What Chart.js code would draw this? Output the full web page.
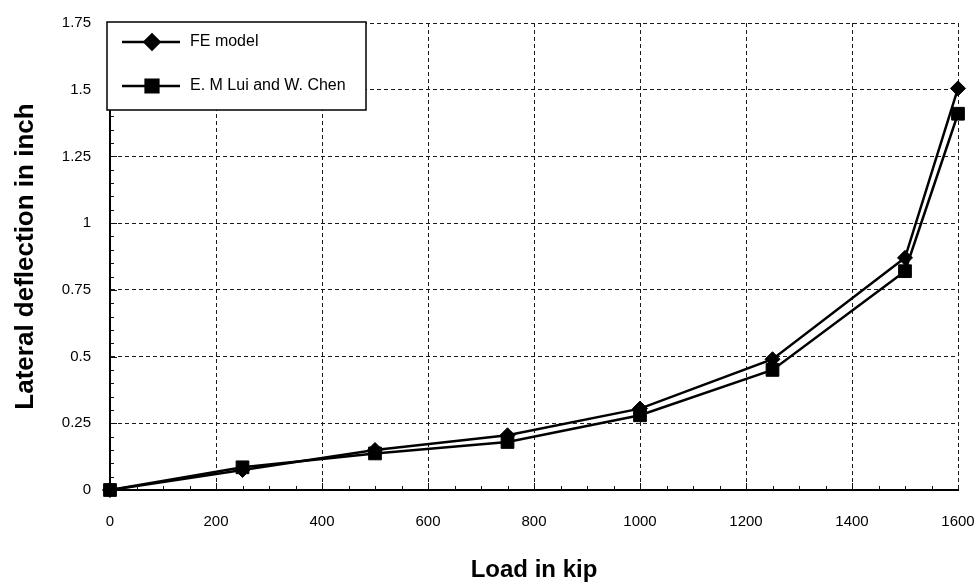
<!DOCTYPE html>
<html>
<head>
<meta charset="utf-8">
<script src="https://cdn.jsdelivr.net/npm/chart.js@4/dist/chart.umd.min.js"></script>
<style>
  html, body { margin: 0; padding: 0; background: #fff; }
  #wrap { width: 979px; height: 587px; }
</style>
</head>
<body>
<div id="wrap"><canvas id="deflChart"></canvas></div>
<script>
// --- data -------------------------------------------------------------------
const loads = [0, 250, 500, 750, 1000, 1250, 1500, 1600];          // kip
const feModel = [0, 0.075, 0.15, 0.205, 0.305, 0.49, 0.87, 1.505];  // inch
const luiChen = [0, 0.085, 0.137, 0.18, 0.28, 0.45, 0.82, 1.41];    // inch
const seriesNames = ['FE model', 'E. M Lui and W. Chen'];
const xTicks = { min: 0, max: 1600, step: 200 };
const yTicks = { min: 0, max: 1.75, step: 0.25 };

const FONT = "'Liberation Sans', Arial, sans-serif";

const toPoints = (ys) => loads.map((x, i) => ({ x, y: ys[i] }));

// --- small inward tick marks on the left and bottom axes --------------------
const minorTicks = {
  id: 'minorTicks',
  afterDatasetsDraw(chart) {
    const { ctx, chartArea: a, scales: { x, y } } = chart;
    ctx.save();
    ctx.strokeStyle = '#111';
    ctx.lineWidth = 1;
    ctx.beginPath();
    for (let v = xTicks.min + 50; v < xTicks.max; v += 50) {
      const px = Math.round(x.getPixelForValue(v)) + 0.5;
      const len = v % 200 === 0 ? 7 : 4;
      ctx.moveTo(px, a.bottom);
      ctx.lineTo(px, a.bottom - len);
    }
    for (let k = 1; k < 35; k++) {
      const v = k * 0.05;
      const py = Math.round(y.getPixelForValue(v)) + 0.5;
      const len = k % 5 === 0 ? 7 : 4;
      ctx.moveTo(a.left, py);
      ctx.lineTo(a.left + len, py);
    }
    ctx.stroke();
    ctx.restore();
  },
};

// --- legend box inside the plot, line + marker samples ----------------------
const boxLegend = {
  id: 'boxLegend',
  afterDraw(chart) {
    const { ctx, chartArea: a } = chart;
    const left = a.left - 3, top = a.top - 1, w = 259, h = 88;
    ctx.save();
    ctx.fillStyle = '#fff';
    ctx.fillRect(left, top, w, h);
    ctx.strokeStyle = '#000';
    ctx.lineWidth = 1.5;
    ctx.strokeRect(left, top, w, h);

    chart.data.datasets.forEach((ds, i) => {
      const cy = top + 20 + i * 44;
      ctx.strokeStyle = '#000';
      ctx.lineWidth = 2.5;
      ctx.beginPath();
      ctx.moveTo(left + 15, cy);
      ctx.lineTo(left + 73, cy);
      ctx.stroke();
      ctx.fillStyle = '#000';
      Chart.helpers.drawPoint(ctx, {
        pointStyle: ds.pointStyle,
        radius: ds.pointRadius,
        rotation: 0,
        borderWidth: 1,
      }, left + 45, cy);
      ctx.fillStyle = '#000';
      ctx.font = '16px ' + FONT;
      ctx.textBaseline = 'middle';
      ctx.textAlign = 'left';
      ctx.fillText(ds.label, left + 83, cy);
    });
    ctx.restore();
  },
};

const ctx = document.getElementById('deflChart').getContext('2d');
const chart = new Chart(ctx, {
  type: 'line',
  data: {
    datasets: [
      {
        label: seriesNames[0],
        data: toPoints(feModel),
        borderColor: '#000',
        backgroundColor: '#000',
        borderWidth: 2.5,
        pointStyle: 'rectRot',
        pointRadius: 7.5,
        pointHoverRadius: 7.5,
        pointBorderWidth: 1,
        tension: 0,
        clip: false,
      },
      {
        label: seriesNames[1],
        data: toPoints(luiChen),
        borderColor: '#000',
        backgroundColor: '#000',
        borderWidth: 2.5,
        pointStyle: 'rect',
        pointRadius: 9,
        pointHoverRadius: 9,
        pointBorderWidth: 1,
        tension: 0,
        clip: false,
      },
    ],
  },
  options: {
    responsive: true,
    maintainAspectRatio: false,
    animation: false,
    events: [],
    layout: { padding: { top: 23, right: 21, left: 0, bottom: 0 } },
    plugins: {
      legend: { display: false },
      tooltip: { enabled: false },
    },
    scales: {
      x: {
        type: 'linear',
        min: xTicks.min,
        max: xTicks.max,
        afterFit: (s) => {
          s.height = 97;
          s.paddingLeft = 0;
          s.paddingRight = 0;
        },
        ticks: {
          stepSize: xTicks.step,
          padding: 23,
          color: '#000',
          font: { family: FONT, size: 15 },
          maxRotation: 0,
          callback: (v) => String(v),
        },
        grid: { color: '#1a1a1a', lineWidth: 1, drawTicks: false },
        border: { color: '#000', width: 2, dash: [4, 3] },
        title: {
          display: true,
          text: 'Load in kip',
          color: '#000',
          font: { family: FONT, size: 24, weight: 'bold' },
          padding: { top: 0, bottom: 2 },
        },
      },
      y: {
        min: yTicks.min,
        max: yTicks.max,
        afterFit: (s) => {
          s.width = 110;
          s.paddingTop = 0;
          s.paddingBottom = 0;
        },
        ticks: {
          stepSize: yTicks.step,
          padding: 19,
          color: '#000',
          font: { family: FONT, size: 15 },
          callback: (v) => String(Math.round(v * 100) / 100),
        },
        grid: { color: '#1a1a1a', lineWidth: 1, drawTicks: false },
        border: { color: '#000', width: 2, dash: [4, 3] },
        title: {
          display: true,
          text: 'Lateral deflection in inch',
          color: '#000',
          font: { family: FONT, size: 26, weight: 'bold' },
          padding: { top: 10, bottom: 0 },
        },
      },
    },
  },
  plugins: [minorTicks, boxLegend],
});
</script>
</body>
</html>
